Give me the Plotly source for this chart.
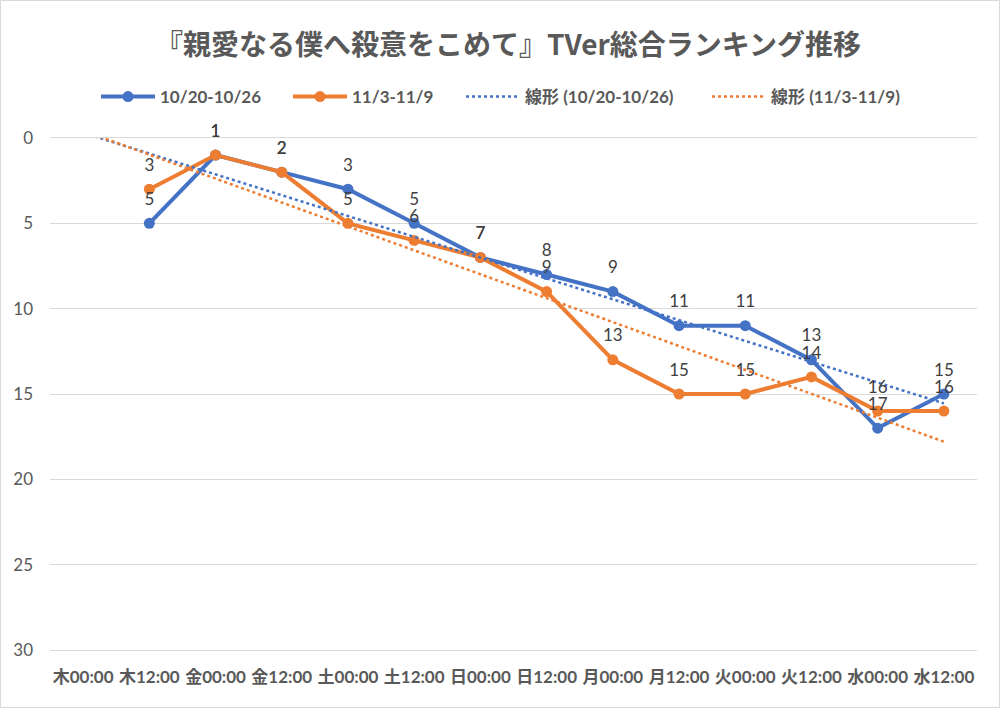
import numpy as np
import plotly.graph_objects as go

title = "『親愛なる僕へ殺意をこめて』TVer総合ランキング推移"
categories = ["木00:00", "木12:00", "金00:00", "金12:00", "土00:00", "土12:00", "日00:00",
              "日12:00", "月00:00", "月12:00", "火00:00", "火12:00", "水00:00", "水12:00"]
series1_name = "10/20-10/26"
series2_name = "11/3-11/9"
# None = no data at that time slot
series1 = [None, 5, 1, 2, 3, 5, 7, 8, 9, 11, 11, 13, 17, 15]
series2 = [None, 3, 1, 2, 5, 6, 7, 9, 13, 15, 15, 14, 16, 16]

BLUE = "#4472C4"
ORANGE = "#ED7D31"
GRAY = "#595959"
LABEL = "#404040"
FONT = "Lato, 'Noto Sans CJK JP', sans-serif"

W, H = 1000, 708
L, R, T, B = 50, 23, 138, 58
pw, ph = W - L - R, H - T - B

idx = list(range(len(categories)))


def trend(vals):
    xs = np.array([i for i, v in zip(idx, vals) if v is not None], dtype=float)
    ys = np.array([v for v in vals if v is not None], dtype=float)
    slope, intercept = np.polyfit(xs, ys, 1)
    tx = np.array([idx[0], idx[-1]], dtype=float)
    return tx, slope * tx + intercept


fig = go.Figure()

for lg, (name, vals, col) in zip(["legend", "legend2"],
                                 [(series1_name, series1, BLUE), (series2_name, series2, ORANGE)]):
    fig.add_trace(go.Scatter(
        x=idx, y=vals, name=name, mode="lines+markers", legend=lg,
        line=dict(color=col, width=4),
        marker=dict(color=col, size=11),
        cliponaxis=False, connectgaps=False,
    ))

for lg, (name, vals, col) in zip(["legend3", "legend4"],
                                 [(series1_name, series1, BLUE), (series2_name, series2, ORANGE)]):
    tx, ty = trend(vals)
    fig.add_trace(go.Scatter(
        x=tx, y=ty, name=f"線形 ({name})", mode="lines", legend=lg,
        line=dict(color=col, width=2.5, dash="dot"),
    ))

# data labels above points
for vals in [series1, series2]:
    fig.add_trace(go.Scatter(
        x=idx, y=vals, mode="markers+text", showlegend=False, hoverinfo="skip",
        text=[("" if v is None else str(v)) for v in vals],
        textposition="top center",
        textfont=dict(family=FONT, size=17, color=LABEL),
        marker=dict(size=21, color="rgba(0,0,0,0)"),
        cliponaxis=False,
    ))


def legend_at(px):
    return dict(
        orientation="h", xref="container", x=px / W, xanchor="left",
        yref="container", y=1 - 97 / H, yanchor="middle",
        font=dict(family=FONT, size=17, color=GRAY, weight="bold"),
        bgcolor="rgba(0,0,0,0)", itemwidth=54,
    )


fig.update_layout(
    width=W, height=H,
    margin=dict(l=L, r=R, t=T, b=B, autoexpand=False),
    paper_bgcolor="white", plot_bgcolor="white",
    font=dict(family=FONT, color=GRAY, size=15),
    title=dict(
        text=f"<b>{title}</b>", x=508 / W, xanchor="center",
        y=1 - 45 / H, yanchor="middle",
        font=dict(family="'Noto Sans CJK JP', sans-serif", size=28, color=GRAY),
    ),
    legend=legend_at(96),
    legend2=legend_at(288),
    legend3=legend_at(461),
    legend4=legend_at(707),
    showlegend=True,
)

fig.update_xaxes(
    range=[-0.5, len(categories) - 0.5],
    tickmode="array", tickvals=idx, ticktext=categories,
    showgrid=False, zeroline=False,
    showline=True, linecolor="#D9D9D9", linewidth=1, mirror=True, ticks="",
    tickfont=dict(family=FONT, size=17, color=GRAY, weight="bold"),
    ticklabelstandoff=12,
)
fig.update_yaxes(
    range=[30, 0], dtick=5, tick0=0,
    showgrid=True, gridcolor="#D9D9D9", gridwidth=1,
    zeroline=False, showline=False, ticks="",
    tickfont=dict(family=FONT, size=17, color=GRAY),
    ticklabelstandoff=16,
)

fig.add_shape(type="rect", xref="paper", yref="paper",
              x0=-(L - 0.5) / pw, x1=(W - L - 0.5) / pw, y0=-(B - 0.5) / ph, y1=1 + (T - 0.5) / ph,
              line=dict(color="#D9D9D9", width=1), fillcolor="rgba(0,0,0,0)", layer="below")

fig.write_html("out.html", config={"displayModeBar": False},
               post_script="document.body.style.margin='0';document.body.style.overflow='hidden';")
